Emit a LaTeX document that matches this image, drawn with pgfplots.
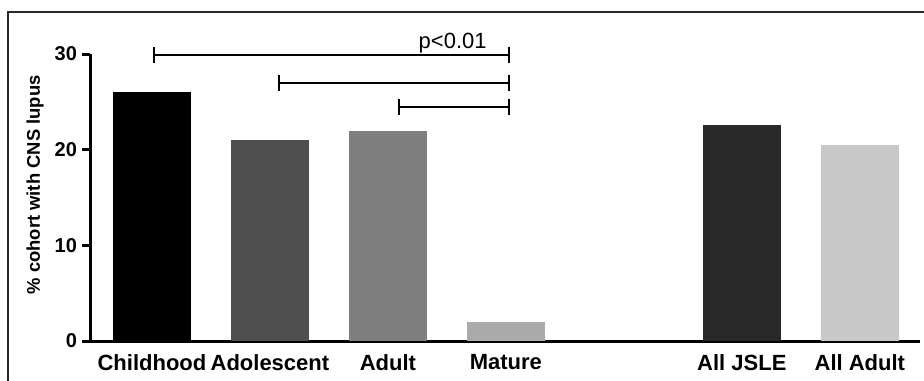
\documentclass[border=0pt]{standalone}
\usepackage{pgfplots}
\pgfplotsset{compat=1.18}
\usepackage{fontspec}
\setmainfont{Liberation Sans}
\definecolor{cA}{HTML}{000000}
\definecolor{cB}{HTML}{4F4F4F}
\definecolor{cC}{HTML}{7F7F7F}
\definecolor{cD}{HTML}{AAAAAA}
\definecolor{cE}{HTML}{282828}
\definecolor{cF}{HTML}{C8C8C8}
\begin{document}
\begin{tikzpicture}
\useasboundingbox (0,0) rectangle (462pt,-190pt);
\draw[line width=1pt, color=black!85] (4pt,-191pt) -- (4pt,-6pt) -- (462pt,-6pt);
\begin{axis}[
  at={(45pt,-170.5pt)}, anchor=south west,
  scale only axis, width=415pt, height=143.5pt,
  xmin=-0.525, xmax=6.51, ymin=0, ymax=30,
  axis lines=left, axis line style={line width=1.5pt, -},
  clip=false,
  xtick={0,1,2,3,5,6},
  xticklabels={Childhood,Adolescent,Adult,Mature,All JSLE,All Adult},
  x tick style={draw=none},
  ytick={0,10,20,30},
  y tick style={line width=1.5pt, black},
  tick align=outside, major tick length=4pt,
  /pgf/number format/assume math mode=true,
  x tick label style={font=\fontsize{11}{13}\selectfont\bfseries, yshift=1pt},
  y tick label style={font=\fontsize{10}{12}\selectfont\bfseries, xshift=1pt},
  ylabel={\% cohort with CNS lupus},
  every axis y label/.style={at={(axis description cs:-0.066,0.544)}, rotate=90, anchor=center, font=\fontsize{9.2}{11}\selectfont\bfseries},
]
\addplot[ybar, bar width=0.66, bar shift=0pt, fill=cA, draw=none] coordinates {(0,26)};
\addplot[ybar, bar width=0.66, bar shift=0pt, fill=cB, draw=none] coordinates {(1,21)};
\addplot[ybar, bar width=0.66, bar shift=0pt, fill=cC, draw=none] coordinates {(2,22)};
\addplot[ybar, bar width=0.66, bar shift=0pt, fill=cD, draw=none] coordinates {(3,2)};
\addplot[ybar, bar width=0.66, bar shift=0pt, fill=cE, draw=none] coordinates {(5,22.6)};
\addplot[ybar, bar width=0.66, bar shift=0pt, fill=cF, draw=none] coordinates {(6,20.5)};
% significance brackets
\addplot[black, line width=1pt, mark=|, mark size=4pt, mark options={line width=1pt}] coordinates {(0.02,29.9) (3.03,29.9)};
\addplot[black, line width=1pt, mark=|, mark size=4pt, mark options={line width=1pt}] coordinates {(1.08,27) (3.03,27)};
\addplot[black, line width=1pt, mark=|, mark size=4pt, mark options={line width=1pt}] coordinates {(2.09,24.5) (3.03,24.5)};
\node[anchor=base east, font=\fontsize{11}{13}\selectfont, inner sep=0pt] at (axis cs:2.84,30.6) {p<0.01};
\end{axis}
\end{tikzpicture}
\end{document}
